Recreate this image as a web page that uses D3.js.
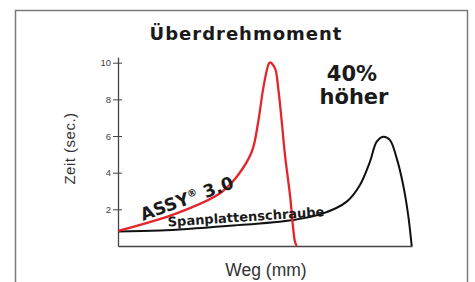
<!DOCTYPE html>
<html>
<head>
<meta charset="utf-8">
<script src="https://cdn.jsdelivr.net/npm/d3@7"></script>
<style>
  body { margin: 0; background: #fff; }
  svg { display: block; }
</style>
</head>
<body>
<div id="chart"></div>
<script>
// Weg (arbitrary units 0..100) vs Zeit (sec.)
var yTicks = [2, 4, 6, 8, 10];

var assyWeg  = [0, 19.9, 34.7, 40.4, 45.5, 47.7, 49.4, 51.1, 51.7, 53.4, 54.5, 55.7, 56.8, 58.5, 60.2, 60.8];
var assyZeit = [0.82, 1.78, 2.88, 3.78, 5.14, 6.78, 8.6, 9.87, 10.02, 9.69, 8.6, 6.78, 4.96, 2.78, 0.23, 0];

var spanWeg  = [0, 14.3, 37, 59.6, 69.8, 77.8, 82.3, 85.7, 88, 90.2, 92.5, 94.8, 97, 98.7, 99.9];
var spanZeit = [0.79, 0.84, 1.09, 1.42, 1.78, 2.42, 3.33, 4.6, 5.69, 5.96, 5.78, 4.78, 3.33, 1.69, 0];

var W = 475, H = 282;
var svg = d3.select('#chart').append('svg')
    .attr('width', W)
    .attr('height', H);

svg.append('rect')
    .attr('x', 15.5).attr('y', 10.5)
    .attr('width', 452).attr('height', 300)
    .attr('fill', '#fff')
    .attr('stroke', '#7a7a7a')
    .attr('stroke-width', 1.5);

var x = d3.scaleLinear().domain([0, 100]).range([118, 412]);
var y = d3.scaleLinear().domain([0, 10.3]).range([246, 57.2]);

// axes
var yAxis = svg.append('g')
    .attr('transform', 'translate(' + x(0) + ',0)')
    .call(d3.axisLeft(y)
        .tickValues(yTicks)
        .tickSizeInner(5)
        .tickSizeOuter(0)
        .tickPadding(2));
yAxis.selectAll('.tick line').attr('x1', 4).attr('stroke', '#444');
yAxis.selectAll('.tick text')
    .style('font-family', 'Liberation Sans, Arial, sans-serif')
    .style('font-size', '9.5px')
    .attr('fill', '#444');
yAxis.select('.domain').attr('stroke', '#444').attr('stroke-width', 1.3);

var xAxis = svg.append('g')
    .attr('transform', 'translate(0,' + y(0) + ')')
    .call(d3.axisBottom(x).tickValues([]).tickSizeOuter(0));
xAxis.select('.domain').attr('stroke', '#444').attr('stroke-width', 1.3);

// lines
var line = d3.line()
    .curve(d3.curveCatmullRom.alpha(0.5))
    .x(d => x(d[0]))
    .y(d => y(d[1]));

svg.append('path')
    .datum(d3.zip(spanWeg, spanZeit))
    .attr('fill', 'none')
    .attr('stroke', '#111')
    .attr('stroke-width', 2)
    .attr('d', line);

svg.append('path')
    .datum(d3.zip(assyWeg, assyZeit))
    .attr('fill', 'none')
    .attr('stroke', '#e3262d')
    .attr('stroke-width', 2.3)
    .attr('d', line);

// texts
var boldFont = 'DejaVu Sans, sans-serif';
var lightFont = 'Liberation Sans, Arial, sans-serif';

svg.append('text')
    .attr('x', 246).attr('y', 40)
    .attr('text-anchor', 'middle')
    .style('font-family', boldFont)
    .style('font-weight', 'bold')
    .style('font-size', '18px')
    .style('letter-spacing', '1px')
    .attr('fill', '#1a1a1a')
    .text('Überdrehmoment');

svg.append('text')
    .attr('x', 352).attr('y', 81)
    .attr('text-anchor', 'middle')
    .style('font-family', boldFont)
    .style('font-weight', 'bold')
    .style('font-size', '21px')
    .attr('fill', '#1a1a1a')
    .text('40%');

svg.append('text')
    .attr('x', 354).attr('y', 103.5)
    .attr('text-anchor', 'middle')
    .style('font-family', boldFont)
    .style('font-weight', 'bold')
    .style('font-size', '21px')
    .attr('fill', '#1a1a1a')
    .text('höher');

var assy = svg.append('text')
    .attr('transform', 'translate(143,221) rotate(-20)')
    .style('font-family', boldFont)
    .style('font-weight', 'bold')
    .style('font-size', '17.5px')
    .attr('fill', '#1a1a1a');
assy.append('tspan').text('ASSY');
assy.append('tspan').attr('dy', -6).style('font-size', '10px').text('®');
assy.append('tspan').attr('dy', 6).text(' 3.0');

svg.append('text')
    .attr('transform', 'translate(168,226.5) rotate(-3.8)')
    .style('font-family', boldFont)
    .style('font-weight', 'bold')
    .style('font-size', '13px')
    .attr('fill', '#1a1a1a')
    .text('Spanplattenschraube');

svg.append('text')
    .attr('transform', 'translate(74.5,148.5) rotate(-90)')
    .attr('text-anchor', 'middle')
    .style('font-family', lightFont)
    .style('font-size', '15px')
    .style('letter-spacing', '0.5px')
    .attr('fill', '#333')
    .text('Zeit (sec.)');

svg.append('text')
    .attr('x', 266).attr('y', 276)
    .attr('text-anchor', 'middle')
    .style('font-family', lightFont)
    .style('font-size', '17.5px')
    .attr('fill', '#333')
    .text('Weg (mm)');
</script>
</body>
</html>
